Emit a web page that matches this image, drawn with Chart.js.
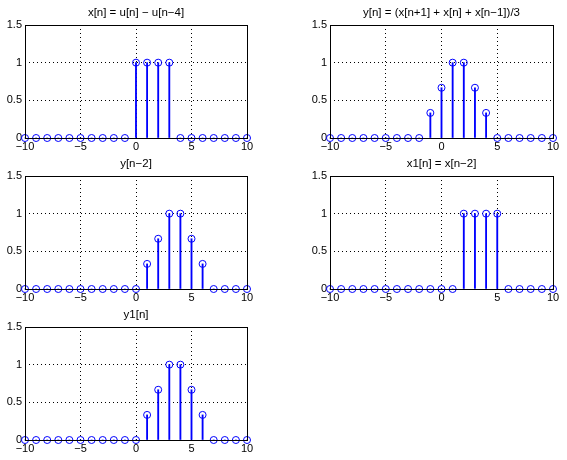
<!DOCTYPE html>
<html>
<head>
<meta charset="utf-8">
<script src="https://cdn.jsdelivr.net/npm/chart.js@4.4.0/dist/chart.umd.min.js"></script>
<style>
    body { margin: 0; background: #fff; }
    #fig { position: relative; width: 567px; height: 460px; }
    #fig canvas { position: absolute; }
</style>
</head>
<body>
<div id="fig">
    <canvas id="c1" width="262" height="155" style="left:0px;top:0px"></canvas>
    <canvas id="c2" width="267" height="155" style="left:300px;top:0px"></canvas>
    <canvas id="c3" width="262" height="155" style="left:0px;top:151px"></canvas>
    <canvas id="c4" width="267" height="155" style="left:300px;top:151px"></canvas>
    <canvas id="c5" width="262" height="155" style="left:0px;top:302px"></canvas>
</div>
<script>
//sample index n
var n = [-10, -9, -8, -7, -6, -5, -4, -3, -2, -1, 0, 1, 2, 3, 4, 5, 6, 7, 8, 9, 10];

//signals
var xn  = [0, 0, 0, 0, 0, 0, 0, 0, 0, 0, 1, 1, 1, 1, 0, 0, 0, 0, 0, 0, 0];
var yn  = [0, 0, 0, 0, 0, 0, 0, 0, 0, 0.333, 0.667, 1, 1, 0.667, 0.333, 0, 0, 0, 0, 0, 0];
var yn2 = [0, 0, 0, 0, 0, 0, 0, 0, 0, 0, 0, 0.333, 0.667, 1, 1, 0.667, 0.333, 0, 0, 0, 0];
var x1n = [0, 0, 0, 0, 0, 0, 0, 0, 0, 0, 0, 0, 1, 1, 1, 1, 0, 0, 0, 0, 0];
var y1n = [0, 0, 0, 0, 0, 0, 0, 0, 0, 0, 0, 0.333, 0.667, 1, 1, 0.667, 0.333, 0, 0, 0, 0];

//tick labels
var xTicks = [-10, -5, 0, 5, 10];
var yTicks = [0, 0.5, 1, 1.5];

var fontFamily = "'Liberation Sans', Arial, Helvetica, sans-serif";
var stemBlue = "#0000ff";

//solid axes box drawn over the grid
var boxPlugin = {
    id: "box",
    afterDraw: function (chart) {
        var a = chart.chartArea;
        var ctx = chart.ctx;
        var l = Math.round(a.left - 0.5) + 0.5;
        var r = Math.round(a.right - 0.5) + 0.5;
        var t = Math.round(a.top - 0.5) + 0.5;
        var b = Math.round(a.bottom - 0.5) + 0.5;
        ctx.save();
        ctx.strokeStyle = "#000";
        ctx.lineWidth = 1;
        ctx.setLineDash([]);
        ctx.strokeRect(l, t, r - l, b - t);
        ctx.restore();
    }
};

function minus(v) {
    return String(v).replace("-", "\u2212");
}

function stemChart(id, title, values, yWidth, rightPad) {
    var pts = [];
    for (var i = 0; i < n.length; i++) {
        pts.push({ x: n[i], y: values[i] });
    }

    return new Chart(document.getElementById(id), {
        type: "bar",
        data: {
            datasets: [
                {
                    type: "line",
                    data: pts,
                    showLine: false,
                    pointStyle: "circle",
                    pointRadius: 3.5,
                    pointHoverRadius: 3.5,
                    pointBorderWidth: 1,
                    borderColor: stemBlue,
                    pointBorderColor: stemBlue,
                    pointBackgroundColor: "rgba(0,0,0,0)",
                    clip: false
                },
                {
                    type: "bar",
                    data: pts,
                    backgroundColor: stemBlue,
                    barThickness: 1.2,
                    clip: false
                }
            ]
        },
        options: {
            responsive: false,
            animation: false,
            events: [],
            layout: { padding: { left: 0, right: rightPad, top: 0, bottom: 0 } },
            plugins: {
                legend: { display: false },
                tooltip: { enabled: false },
                title: {
                    display: true,
                    text: title,
                    fullSize: false,
                    color: "#000",
                    font: { family: fontFamily, size: 11.5, weight: "normal", lineHeight: 1.2 },
                    padding: { top: 5.5, bottom: 5.7 }
                }
            },
            scales: {
                x: {
                    type: "linear",
                    min: -10,
                    max: 10,
                    offset: false,
                    afterBuildTicks: function (s) {
                        s.ticks = xTicks.map(function (v) { return { value: v }; });
                    },
                    afterFit: function (s) { s.height = 17; },
                    grid: { color: "#000", lineWidth: 1, drawTicks: false, offset: false },
                    border: { display: false, dash: [1, 3] },
                    ticks: {
                        color: "#000",
                        padding: 2,
                        maxRotation: 0,
                        autoSkip: false,
                        font: { family: fontFamily, size: 11 },
                        callback: function (v) { return minus(v); }
                    }
                },
                y: {
                    type: "linear",
                    min: 0,
                    max: 1.5,
                    afterBuildTicks: function (s) {
                        s.ticks = yTicks.map(function (v) { return { value: v }; });
                    },
                    afterFit: function (s) { s.width = yWidth; },
                    grid: { color: "#000", lineWidth: 1, drawTicks: false },
                    border: { display: false, dash: [1, 3] },
                    ticks: {
                        color: "#000",
                        padding: 3,
                        font: { family: fontFamily, size: 11 },
                        callback: function (v) { return String(v); }
                    }
                }
            }
        },
        plugins: [boxPlugin]
    });
}

//create the five subplots
stemChart("c1", "x[n] = u[n] \u2212 u[n\u22124]", xn, 25, 15);
stemChart("c2", "y[n] = (x[n+1] + x[n] + x[n\u22121])/3", yn, 30, 14);
stemChart("c3", "y[n\u22122]", yn2, 25, 15);
stemChart("c4", "x1[n] = x[n\u22122]", x1n, 30, 14);
stemChart("c5", "y1[n]", y1n, 25, 15);
</script>
</body>
</html>
